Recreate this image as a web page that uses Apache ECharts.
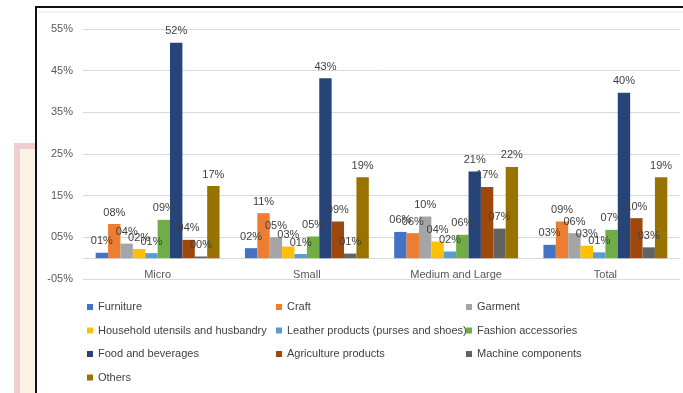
<!DOCTYPE html>
<html lang="en">
<head>
    <meta charset="UTF-8">
    <title>Enterprise size by sector</title>
    <script src="https://cdn.jsdelivr.net/npm/echarts@6/dist/echarts.min.js"></script>
    <style>
        html, body { margin: 0; padding: 0; background: #fff; }
    </style>
</head>
<body>
    <div id="dv" style="width:683px;height:393px;"></div>
<script>
   // categories and series (percent)
   var sizes = ['Micro', 'Small', 'Medium and Large', 'Total']
   var sectors = ['Furniture', 'Craft', 'Garment', 'Household utensils and husbandry',
       'Leather products (purses and shoes)', 'Fashion accessories', 'Food and beverages',
       'Agriculture products', 'Machine components', 'Others']
   var furniture   = [1.3, 2.4, 6.3, 3.2]
   var craft       = [8.2, 10.8, 6.0, 8.8]
   var garment     = [3.5, 5.0, 10.0, 6.0]
   var household   = [2.2, 2.8, 4.0, 3.0]
   var leather     = [1.2, 1.0, 1.6, 1.4]
   var fashion     = [9.2, 5.2, 5.6, 6.8]
   var food        = [51.7, 43.2, 20.8, 39.7]
   var agriculture = [4.4, 8.8, 17.1, 9.6]
   var machine     = [0.4, 1.1, 7.1, 2.6]
   var others      = [17.3, 19.4, 21.9, 19.4]
   var colors = ['#4472C4', '#ED7D31', '#A5A5A5', '#FFC000', '#5B9BD5',
       '#70AD47', '#264478', '#9E480E', '#636363', '#997300']
   var values = [furniture, craft, garment, household, leather, fashion, food, agriculture, machine, others]

   function pct(v) {
       var n = Math.round(Math.abs(v))
       return (v < 0 ? '-' : '') + (n < 10 ? '0' + n : n) + '%'
   }

   var txt = '#595959'
   var font = 'Liberation Sans'

   var series = sectors.map(function (name, i) {
       return {
           name: name,
           type: 'bar',
           barGap: '0%',
           barCategoryGap: '17%',
           itemStyle: { color: colors[i] },
           label: {
               show: true,
               position: 'top',
               distance: 6,
               color: '#404040',
               fontFamily: font,
               fontSize: 11,
               formatter: function (p) { return pct(p.value) }
           },
           data: values[i]
       }
   })

   function legendCol(left, items) {
       return {
           orient: 'vertical',
           left: left,
           top: 301,
           padding: 0,
           itemGap: 11.5,
           itemWidth: 6,
           itemHeight: 6,
           icon: 'rect',
           textStyle: { color: '#404040', fontFamily: font, fontSize: 11, lineHeight: 12 },
           data: items
       }
   }

   var myChart = echarts.init(document.getElementById('dv'))
   var option = {
       animation: false,
       textStyle: { fontFamily: font },
       graphic: [
           { type: 'rect', z: -10, shape: { x: 17, y: 146, width: 30, height: 260 },
             style: { fill: '#fcf3e4', stroke: '#f0cdd1', lineWidth: 6 } },
           { type: 'rect', z: -9, shape: { x: 36, y: 7, width: 680, height: 420 },
             style: { fill: '#fff', stroke: '#111', lineWidth: 2 } },
           { type: 'polyline', z: -8, shape: { points: [[38, 12], [683, 12]] },
             style: { stroke: '#e4e4e4', lineWidth: 1 } }
       ],
       grid: { left: 83, right: 3, top: 29, bottom: 114 },
       legend: [
           legendCol(87, [sectors[0], sectors[3], sectors[6], sectors[9]]),
           legendCol(276, [sectors[1], sectors[4], sectors[7]]),
           legendCol(466, [sectors[2], sectors[5], sectors[8]])
       ],
       xAxis: {
           type: 'category',
           data: sizes,
           axisTick: { show: false },
           axisLine: { onZero: true, lineStyle: { color: '#d9d9d9' } },
           axisLabel: { color: txt, fontFamily: font, fontSize: 11, margin: -10 }
       },
       yAxis: {
           type: 'value',
           min: -5,
           max: 55,
           interval: 10,
           axisLine: { show: false },
           axisTick: { show: false },
           splitLine: { lineStyle: { color: '#d9d9d9' } },
           axisLabel: { color: txt, fontFamily: font, fontSize: 11, margin: 10, formatter: pct }
       },
       series: series
   }
   myChart.setOption(option)
</script>
</body>
</html>
